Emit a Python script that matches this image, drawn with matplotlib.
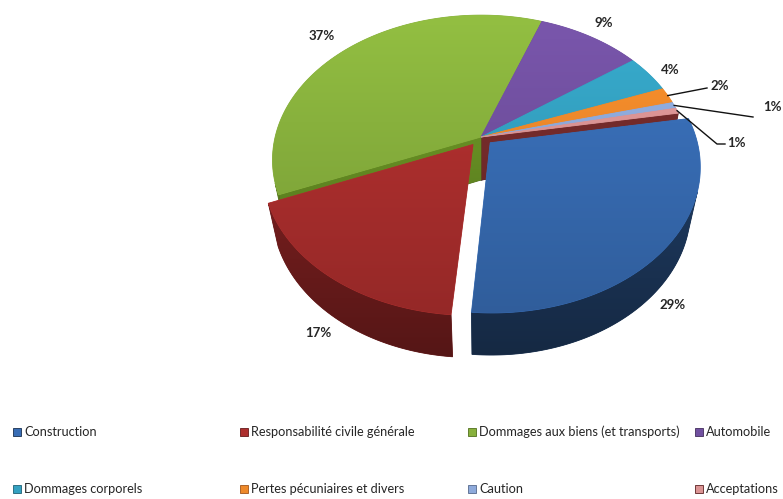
import numpy as np
import matplotlib.pyplot as plt
from matplotlib.patches import Polygon, Rectangle
from matplotlib.colors import to_rgb

categories = ['Construction', 'Responsabilité civile générale',
              'Dommages aux biens (et transports)', 'Automobile',
              'Dommages corporels', 'Pertes pécuniaires et divers',
              'Caution', 'Acceptations']
shares = [29.1, 17.4, 36.8, 9.4, 4.2, 1.8, 0.7, 0.6]
pct_labels = ['29%', '17%', '37%', '9%', '4%', '2%', '1%', '1%']
explode = [0.06, 0.065, 0, 0, 0, 0, 0, 0]

top_colors = ['#386db5', '#ae2f2e', '#88b13d', '#7150a0',
              '#34a1c1', '#ee892a', '#8eaadb', '#db9494']
side_colors = ['#19304f', '#651a1a', '#51701c', '#422d5c',
               '#1e6174', '#a0541a', '#55698c', '#5c2222']

W, H = 783, 499
fig = plt.figure(figsize=(W / 100, H / 100), dpi=100)
ax = fig.add_axes([0, 0, 1, 1])
ax.axis('off')

# simple perspective camera for the 3d pie
F, D, tilt = 945.0, 4.59, np.radians(43.3)
ca, sa = np.cos(tilt), np.sin(tilt)
cx, cy = 481, 137
thick = 0.30


def proj(x, y, z):
    x = np.asarray(x, float)
    y = np.asarray(y, float)
    z = np.asarray(z, float) * np.ones_like(x)
    depth = D + y * ca - z * sa
    return cx + F * x / depth, cy - F * (y * sa + z * ca) / depth


def depth_of(x, y, z):
    return np.mean(D + np.asarray(y) * ca - np.asarray(z) * sa)


def shaded(pts, color, y_lo, y_hi, f_lo, f_hi, z):
    # polygon filled with a vertical gradient (screen y based)
    base = np.array(to_rgb(color))
    poly = Polygon(pts, closed=True, facecolor=color, edgecolor=color, lw=0.6, zorder=z)
    ax.add_patch(poly)
    x0, y0 = pts.min(0)
    x1, y1 = pts.max(0)
    ys = np.linspace(y0, y1, 80)
    f = f_lo + (f_hi - f_lo) * np.clip((ys - y_lo) / (y_hi - y_lo), 0, 1)
    img = np.clip(base[None, :] * f[:, None], 0, 1)[:, None, :]
    im = ax.imshow(img, extent=(x0, x1, y1, y0), aspect='auto',
                   interpolation='bilinear', zorder=z + 0.01)
    im.set_clip_path(poly)


start = 10.0
edges = start - np.concatenate([[0], np.cumsum(shares)]) * 3.6

side_polys = []
top_polys = []
mids = []
for i in range(len(shares)):
    hi, lo = np.radians(edges[i]), np.radians(edges[i + 1])
    mid = (hi + lo) / 2
    mids.append(mid)
    ox, oy = explode[i] * np.cos(mid), explode[i] * np.sin(mid)
    t = np.linspace(lo, hi, 120)
    ax_, ay_ = np.cos(t) + ox, np.sin(t) + oy

    # top face
    px, py = proj(np.concatenate([[ox], ax_]), np.concatenate([[oy], ay_]), 0)
    top_polys.append((np.column_stack([px, py]), top_colors[i]))

    # outer wall, only the part facing the camera
    vis = 1 + ox * np.cos(t) + (oy + D * ca) * np.sin(t) < 0
    if vis.any():
        idx = np.where(vis)[0]
        for r in np.split(idx, np.where(np.diff(idx) > 1)[0] + 1):
            if len(r) < 2:
                continue
            wx = np.concatenate([ax_[r], ax_[r][::-1]])
            wy = np.concatenate([ay_[r], ay_[r][::-1]])
            wz = np.concatenate([np.zeros(len(r)), -thick * np.ones(len(r))])
            px, py = proj(wx, wy, wz)
            side_polys.append((depth_of(wx, wy, wz), np.column_stack([px, py]), side_colors[i]))

    # radial faces that point towards the viewer
    for a, n in ((hi, (-np.sin(hi), np.cos(hi))), (lo, (np.sin(lo), -np.cos(lo)))):
        if n[1] > -0.2:
            continue
        fx = np.array([ox, ox + np.cos(a), ox + np.cos(a), ox])
        fy = np.array([oy, oy + np.sin(a), oy + np.sin(a), oy])
        fz = np.array([0, 0, -thick, -thick])
        px, py = proj(fx, fy, fz)
        side_polys.append((depth_of(fx, fy, fz), np.column_stack([px, py]), side_colors[i]))

side_polys.sort(key=lambda p: -p[0])
z = 1.0
for _, pts, col in side_polys:
    shaded(pts, col, 150, 355, 1.25, 0.85, z)
    z += 0.1
for pts, col in top_polys:
    shaded(pts, col, 15, 310, 1.08, 0.86, z)
    z += 0.1

# percentage labels
label_pos = [(673, 305), (318, 333), (322, 36), (604, 23), (670, 70),
             (710, 86), (782, 107), (727, 143)]
label_ha = ['center'] * 5 + ['left', 'right', 'left']
for i, (lx, ly) in enumerate(label_pos):
    ax.text(lx, ly, pct_labels[i], ha=label_ha[i], va='center', fontsize=9.5,
            fontweight='bold', family='Lato', color='#262626', zorder=10)

# leader lines for the thin slices
leader_pts = {5: [(707, 88)], 6: [(753, 117)], 7: [(717, 144), (725, 144)]}
for i, pts in leader_pts.items():
    rx, ry = proj(np.cos(mids[i]), np.sin(mids[i]), 0)
    xs = [float(rx)] + [p[0] for p in pts]
    ys = [float(ry)] + [p[1] for p in pts]
    ax.plot(xs, ys, color='#111111', lw=1.0, zorder=10)

# legend, Excel style grid
leg_x = [13, 240, 468, 695, 13, 240, 468, 695]
leg_y = [432, 432, 432, 432, 489, 489, 489, 489]
for i, name in enumerate(categories):
    ax.add_patch(Rectangle((leg_x[i], leg_y[i] - 4), 8, 8, facecolor=top_colors[i],
                           edgecolor=side_colors[i], lw=0.6, zorder=10))
    ax.text(leg_x[i] + 11, leg_y[i], name, ha='left', va='center', fontsize=9.2,
            family='Lato', color='#262626', zorder=10)

ax.set_xlim(0, W)
ax.set_ylim(H, 0)
fig.savefig('out.png', dpi=100)
